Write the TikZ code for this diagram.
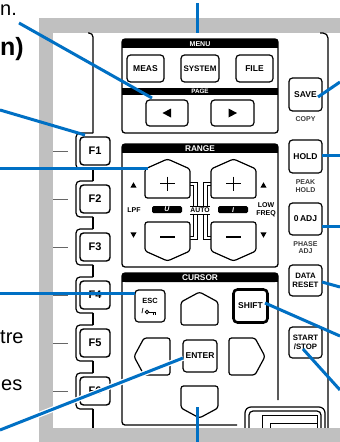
\documentclass[tikz,border=0pt]{standalone}
\usepackage{fontspec}
\setmainfont{Liberation Sans}
\definecolor{cblue}{RGB}{0,112,196}
\definecolor{pgray}{RGB}{192,192,192}
\definecolor{sublab}{RGB}{60,60,60}
\tikzset{
  pline/.style={line width=1.2pt, black},
  boxline/.style={line width=1.3pt, rounded corners=3pt},
  brk/.style={line width=0.8pt},
  btn/.style={draw, line width=1.2pt, rounded corners=3.5pt, fill=white, inner sep=0pt, align=center,
    font=\bfseries\fontsize{8.5}{9}\selectfont},
  btntwo/.style={btn, font=\bfseries\fontsize{7.8}{8.6}\selectfont},
  fkey/.style={draw, line width=1.4pt, rounded corners=3.5pt, fill=white, inner sep=0pt,
    minimum width=30pt, minimum height=28pt, font=\bfseries\fontsize{11}{12}\selectfont},
  pent/.style={draw, line width=1.2pt, rounded corners=2.5pt, fill=white},
  hdr/.style={text=white, inner sep=0pt, font=\bfseries\fontsize{7}{7.5}\selectfont},
  hdrbig/.style={text=white, inner sep=0pt, font=\bfseries\fontsize{8.3}{8.8}\selectfont},
  sub/.style={text=sublab, inner sep=0pt, align=center, font=\bfseries\fontsize{7}{7.8}\selectfont},
  lab/.style={inner sep=0pt, align=center, font=\bfseries\fontsize{7}{7.6}\selectfont},
  callout/.style={draw=cblue, line width=3pt},
  casing/.style={draw=white, line width=5.5pt},
  side/.style={inner sep=0pt, anchor=base west, font=\fontsize{20}{22}\selectfont},
}
\begin{document}
\begin{tikzpicture}[x=1pt,y=-1pt]
\useasboundingbox (0,0) rectangle (340,442);
\clip (0,0) rectangle (340,442);
\fill[white] (0,0) rectangle (340,442);
% gray frame
\fill[pgray] (39,18) rectangle (340,33);
\fill[pgray] (39,18) rectangle (53,442);

% side texts
\node[side] (t1) at (0,15) {n.};
\node[side, font=\bfseries\fontsize{25}{27}\selectfont] (t2) at (0,55) {n)};
\node[side] (t3) at (0,343) {tre};
\node[side] (t4) at (1,390) {es};

% panel outline lines
\draw[pline, rounded corners=4pt] (88,33) -- (93,33) -- (93,133);
\draw[pline, rounded corners=5pt] (320,33) -- (328,33) -- (328,430);

% F keys
\foreach \i/\cy in {1/151,2/199,3/247,4/295,5/343,6/391}{
  \draw[line width=0.8pt, black!60] (53,\cy) -- (68,\cy);
  \draw[pline, rounded corners=4pt] (93,\cy-18) -- (76,\cy-18) -- (76,\cy+18) -- (93,\cy+18);
  \node[fkey] (f\i) at (95,\cy) {F\i};
}
\foreach \cy in {151,199,247,295,343}{
  \draw[pline] (93,\cy+18) -- (93,\cy+30);
}
\draw[pline] (93,409) -- (93,430);

% MENU box
\begin{scope}
  \clip[rounded corners=3pt] (122,39) rectangle (278,133);
  \fill (122,39) rectangle (278,48);
  \fill (122,88) rectangle (278,94.5);
\end{scope}
\draw[boxline] (122,39) rectangle (278,133);
\node[hdr] (menuh) at (200,43.8) {MENU};
\node[hdr, font=\bfseries\fontsize{6.3}{6.8}\selectfont] (pageh) at (200,91.3) {PAGE};
\node[btn, minimum width=37pt, minimum height=27pt] (meas) at (145.5,68.5) {MEAS};
\node[btn, minimum width=38pt, minimum height=27pt, font=\bfseries\fontsize{8}{9}\selectfont] (system) at (200,68.5) {SYSTEM};
\node[btn, minimum width=37pt, minimum height=27pt] (file) at (254.5,68.5) {FILE};
\node[btn, minimum width=42pt, minimum height=26pt] (pgl) at (167,113) {};
\node[btn, minimum width=43pt, minimum height=26pt] (pgr) at (232.5,113) {};
\fill (162.5,113) -- (171,108.5) -- (171,117.5) -- cycle;
\fill (237,113) -- (228.5,108.5) -- (228.5,117.5) -- cycle;

% RANGE box
\begin{scope}
  \clip[rounded corners=3pt] (122,144) rectangle (278,267);
  \fill (122,144) rectangle (278,153);
\end{scope}
\draw[boxline] (122,144) rectangle (278,267);
\node[hdrbig] (rangeh) at (200,148.7) {RANGE};
% brackets (double-line)
\draw[brk] (190,182.5) -- (197,182.5) -- (197,206);
\draw[brk] (190,185.5) -- (193,185.5) -- (193,206);
\draw[brk] (197,214) -- (197,239.5) -- (190,239.5);
\draw[brk] (193,214) -- (193,236.5) -- (190,236.5);
\draw[brk] (211,182.5) -- (203,182.5) -- (203,206);
\draw[brk] (211,185.5) -- (207,185.5) -- (207,206);
\draw[brk] (203,214) -- (203,239.5) -- (211,239.5);
\draw[brk] (207,214) -- (207,236.5) -- (211,236.5);
% plus / minus keys
\draw[pent] (145,198) -- (145,169) -- (167.5,159) -- (190,169) -- (190,198) -- cycle;
\draw[pent] (211,198) -- (211,169) -- (233.5,159) -- (256,169) -- (256,198) -- cycle;
\draw[pent] (145,222) -- (190,222) -- (190,251) -- (167.5,261) -- (145,251) -- cycle;
\draw[pent] (211,222) -- (256,222) -- (256,251) -- (233.5,261) -- (211,251) -- cycle;
\draw[line width=1.8pt] (160,183.5) -- (175,183.5) (167.5,176.5) -- (167.5,190.5);
\draw[line width=1.8pt] (226,183.5) -- (241,183.5) (233.5,176.5) -- (233.5,190.5);
\draw[line width=1.8pt] (160,237) -- (175,237);
\draw[line width=1.8pt] (226,237) -- (241,237);
% labels
\fill[rounded corners=1.5pt] (152,206) rectangle (182,213);
\fill[rounded corners=1.5pt] (218,206) rectangle (248,213);
\node[lab, text=white, font=\bfseries\itshape\fontsize{7}{7.5}\selectfont] (ulab) at (167,209.6) {U};
\node[lab, text=white, font=\bfseries\itshape\fontsize{7}{7.5}\selectfont] (ilab) at (233,209.6) {I};
\node[lab, font=\bfseries\fontsize{6.8}{7.4}\selectfont] (auto) at (200,210) {AUTO};
\draw[brk] (190,206) -- (210,206);
\draw[brk] (190,214) -- (210,214);
\node[lab] (lpf) at (134,210.3) {LPF};
\node[lab] (lowf) at (266,209.5) {LOW\\FREQ};
\fill (133.5,182.3) -- (136.6,187.7) -- (130.4,187.7) -- cycle;
\fill (130.4,232.3) -- (136.6,232.3) -- (133.5,237.7) -- cycle;
\fill (263.5,182.3) -- (266.6,187.7) -- (260.4,187.7) -- cycle;
\fill (260.4,232.3) -- (266.6,232.3) -- (263.5,237.7) -- cycle;

% CURSOR box
\fill[rounded corners=3pt] (122,282) |- (278,273) -- (278,282) -- cycle;
\fill (122,278) rectangle (278,282);
\draw[line width=1.3pt, rounded corners=3pt] (237,425) -| (122,273) -| (278,400);
\node[hdrbig] (cursh) at (200,277.7) {CURSOR};
\node[btn, minimum width=30pt, minimum height=32pt] (esc) at (150,306) {};
\node[lab, font=\bfseries\fontsize{7.5}{8}\selectfont] (esct) at (150,301) {ESC};
\node[lab, font=\bfseries\fontsize{7}{8}\selectfont] (escs) at (142.5,311.5) {/};
\draw[line width=0.9pt] (147,312) circle (1.7pt);
\draw[line width=0.9pt] (148.7,312) -- (156,312) (153,312) -- (153,314.5) (155.6,312) -- (155.6,314.5);
\draw[pent] (181,325) -- (181,302) -- (199.5,292) -- (218,302) -- (218,325) -- cycle;
\node[btn, line width=2.6pt, rounded corners=4pt, minimum width=34pt, minimum height=33pt] (shift) at (250.5,306) {SHIFT};
\draw[pent] (170,338) -- (144,338) -- (134,356.5) -- (144,375) -- (170,375) -- cycle;
\node[btn, minimum width=34pt, minimum height=32pt] (enter) at (200,356) {ENTER};
\draw[pent] (229,338) -- (255,338) -- (265,356.5) -- (255,375) -- (229,375) -- cycle;
\draw[pent] (181,386) -- (218,386) -- (218,408) -- (199.5,418) -- (181,408) -- cycle;

% right column
\node[btn, minimum width=33pt, minimum height=33pt] (save) at (305.5,94.5) {SAVE};
\node[sub] (copy) at (305.5,119) {COPY};
\node[btn, minimum width=33pt, minimum height=33pt] (hold) at (305.5,156.5) {HOLD};
\node[sub] (peak) at (305.5,186) {PEAK\\HOLD};
\node[btn, minimum width=33pt, minimum height=32pt] (zadj) at (305.5,219) {0\,ADJ};
\node[sub] (phase) at (305.5,247.5) {PHASE\\ADJ};
\node[btntwo, minimum width=33pt, minimum height=31pt] (dreset) at (305.5,280.5) {DATA\\RESET};
\node[btntwo, minimum width=33pt, minimum height=31pt] (start) at (305.5,342.5) {START\\/STOP};

% switch housing
\draw[line width=1.2pt, rounded corners=6pt] (245,445) -- (245,407) -- (325,407) -- (325,445);
\draw[line width=1.2pt, rounded corners=4pt] (249,445) -- (249,411) -- (321,411) -- (321,445);
\draw[line width=1pt] (262,445) -- (262,415) -- (317,415) -- (317,445);
\draw[line width=0.8pt] (270,445) -- (270,423) -- (317,423);

% bottom gray band
\fill[pgray] (53,428) rectangle (340,442);

% callouts
\coordinate (c1a) at (19,23);   \coordinate (c1b) at (152,98);
\coordinate (c2a) at (197,3);   \coordinate (c2b) at (197,33);
\coordinate (c3a) at (0,110);   \coordinate (c3b) at (85,135);
\coordinate (c4a) at (340,82);  \coordinate (c4b) at (318,97);
\coordinate (c5a) at (0,168);   \coordinate (c5b) at (148,168);
\coordinate (c6a) at (0,293);   \coordinate (c6b) at (135,293);
\coordinate (c7a) at (340,155); \coordinate (c7b) at (322,155);
\coordinate (c8a) at (340,226); \coordinate (c8b) at (322,226);
\coordinate (c9a) at (340,287); \coordinate (c9b) at (322,282);
\coordinate (c10a) at (340,336); \coordinate (c10b) at (265,303);
\coordinate (c11a) at (340,390); \coordinate (c11b) at (303,349);
\coordinate (c12a) at (0,430);  \coordinate (c12b) at (183,358);
\coordinate (c13a) at (197,442); \coordinate (c13b) at (197,407);
\foreach \k in {1,2,3,4,5,6,7,8,9,10,11,13}{
  \draw[callout] (c\k a) -- (c\k b);
}
\draw[casing] (c12a) -- (c12b);
\draw[callout] (c12a) -- (c12b);
\end{tikzpicture}
\end{document}
